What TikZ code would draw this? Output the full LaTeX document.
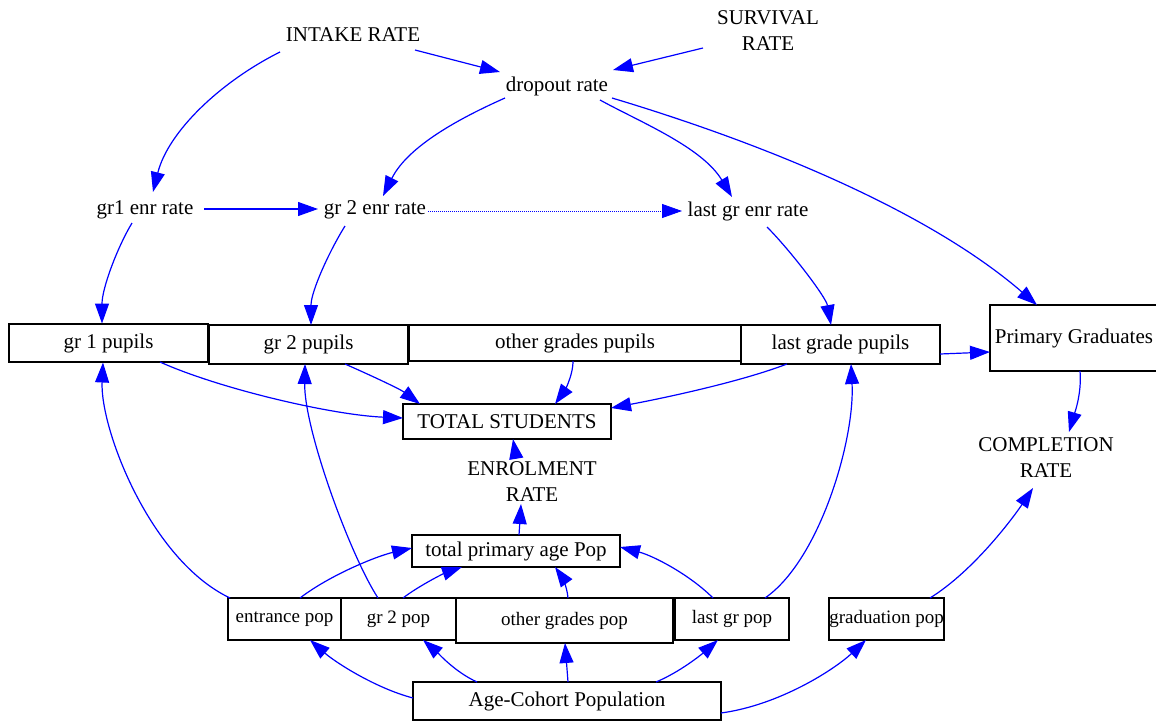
\documentclass[tikz,border=0pt]{standalone}
\usepackage{fontspec}
\setmainfont{Liberation Serif}
\usetikzlibrary{arrows.meta,calc}
\definecolor{linkblue}{RGB}{0,0,255}

\begin{document}
\begin{tikzpicture}[x=0.75pt,y=-0.75pt,
  lbl/.style={inner sep=0pt, font=\fontsize{15.75}{19.5}\selectfont, align=center},
  box/.style 2 args={draw, line width=1.1pt, inner sep=0pt,
    minimum width=#1*0.75pt, minimum height=#2*0.75pt,
    font=\fontsize{15.75}{19}\selectfont},
  smallbox/.style 2 args={box={#1}{#2}, font=\fontsize{14.25}{17}\selectfont},
  link/.style={draw=linkblue, line width=0.9pt, -{Triangle[length=15pt,width=10.5pt]}},
  weaklink/.style={link, line width=0.6pt, dash pattern=on 0.6pt off 0.9pt},
]
\useasboundingbox (0,0) rectangle (1156,721);
\clip (0,0) rectangle (1156,721);

% rates and auxiliary variables
\node[lbl] (intake)     at (353,35)  {INTAKE RATE};
\node[lbl] (survival)   at (768,31)  {SURVIVAL\\RATE};
\node[lbl] (dropout)    at (557,86)  {dropout rate};
\node[lbl] (gr1enr)     at (145,210) {gr1 enr rate};
\node[lbl] (gr2enr)     at (375,210) {gr 2 enr rate};
\node[lbl] (lastenr)    at (748,211) {last gr enr rate};
\node[lbl] (enrol)      at (532,482) {ENROLMENT\\RATE};
\node[lbl] (completion) at (1046,458) {COMPLETION\\RATE};

% pupil stocks
\node[box={199}{38}] (gr1p)   at (108.5,343) {gr 1 pupils};
\node[box={199}{39}] (gr2p)   at (308.5,344.5) {gr 2 pupils};
\node[box={332}{36}] (otherp) at (575,343) {other grades pupils};
\node[box={199}{39}] (lastp)  at (840.5,344.5) {last grade pupils};
\node[box={168}{66}] (grads)  at (1074,338) {Primary Graduates};
\node[box={208}{35}] (total)  at (507,421.5) {TOTAL STUDENTS};

% population
\node[box={208}{32}] (totalpop) at (516,551) {total primary age Pop};
\node[smallbox={113}{42}] (entrance) at (284.5,619) {entrance pop};
\node[smallbox={115}{42}] (gr2pop)   at (398.5,619) {gr 2 pop};
\node[smallbox={217}{45}] (otherpop) at (564.5,620.5) {other grades pop};
\node[smallbox={114}{42}] (lastpop)  at (732,619) {last gr pop};
\node[smallbox={115}{42}] (gradpop)  at (886.5,619) {graduation pop};
\node[box={308}{38}] (cohort) at (567,701) {Age-Cohort Population};

% upper links
\draw[link] ($(intake)+(62,15)$) -- ($(dropout)+(-57,-14)$);
\draw[link] ($(survival)+(-65,17)$) -- ($(dropout)+(56,-16)$);
\draw[link] ($(intake)+(-73,17)$) .. controls +(-60,30) and +(15,-60) .. ($(gr1enr)+(8,-18)$);
\draw[link] ($(dropout)+(-52,12)$) .. controls +(-45,20) and +(25,-50) .. ($(gr2enr)+(8,-14)$);
\draw[link] ($(dropout)+(43,14)$) .. controls +(40,22) and +(-30,-50) .. ($(lastenr)+(-16,-14)$);
\draw[link] ($(dropout)+(55,12)$) .. controls +(150,45) and +(-110,-95) .. ($(grads)+(-37,-33)$);
\draw[link] ($(gr1enr)+(59,-1)$) -- ($(gr2enr)+(-57,-1)$);
\draw[weaklink] ($(gr2enr)+(53,1)$) -- ($(lastenr)+(-66,0)$);

% enrolment rates to pupils
\draw[link] ($(gr1enr)+(-13,13)$) .. controls +(-15,25) and +(0,-35) .. ($(gr1p)+(-6.5,-19.5)$);
\draw[link] ($(gr2enr)+(-30,16)$) .. controls +(-15,24) and +(0,-34) .. ($(gr2p)+(2.5,-19.5)$);
\draw[link] ($(lastenr)+(19,16)$) .. controls +(23,23) and +(-5,-28) .. ($(lastp)+(-9.5,-19.5)$);
\draw[link] ($(lastp)+(99.5,9.5)$) -- ($(grads)+(-84,14)$);
\draw[link] ($(grads)+(6,33)$) .. controls +(2,23) and +(5,-17) .. ($(completion)+(23,-26)$);

% pupils to total
\draw[link] ($(gr1p)+(51.5,19)$) .. controls +(60,27) and +(-71,-3) .. ($(total)+(-104,-3.5)$);
\draw[link] ($(gr2p)+(36.5,19.5)$) .. controls +(25,11) and +(-20,-15) .. ($(total)+(-87,-17.5)$);
\draw[link] ($(otherp)+(-2,18)$) .. controls +(0,16) and +(8,-11) .. ($(total)+(48,-17.5)$);
\draw[link] ($(lastp)+(-53.5,19.5)$) .. controls +(-47,18) and +(53,-10) .. ($(total)+(104,-13.5)$);
\draw[link] ($(enrol)+(-16,-25)$) -- ($(total)+(6,17.5)$);
\draw[link] ($(totalpop)+(3,-16)$) -- ($(enrol)+(-11,22)$);

% population to pupils
\draw[link] ($(entrance)+(-54.5,-21)$) .. controls +(-80,-38) and +(-3,66) .. ($(gr1p)+(-5.5,19.5)$);
\draw[link] ($(gr2pop)+(-20.5,-21)$) .. controls +(-28,-43) and +(-1,65) .. ($(gr2p)+(-3.5,19.5)$);
\draw[link] ($(lastpop)+(33,-21)$) .. controls +(55,-38) and +(4,75) .. ($(lastp)+(10.5,19.5)$);
\draw[link] ($(gradpop)+(43.5,-21)$) .. controls +(45,-28) and +(-18,27) .. ($(completion)+(-13,30)$);

% population to total primary age pop
\draw[link] ($(entrance)+(15.5,-21)$) .. controls +(30,-23) and +(-35,8) .. ($(totalpop)+(-104,-3)$);
\draw[link] ($(gr2pop)+(4.5,-21)$) .. controls +(17,-13) and +(-17,6) .. ($(totalpop)+(-54,16)$);
\draw[link] ($(otherpop)+(3.5,-22.5)$) .. controls +(-1,-13) and +(5,7) .. ($(totalpop)+(39,16)$);
\draw[link] ($(lastpop)+(-19,-21)$) .. controls +(-23,-23) and +(34,9) .. ($(totalpop)+(104,-4)$);

% cohort to grade populations
\draw[link] ($(cohort)+(-154,-3)$) .. controls +(-38,-10) and +(25,22) .. ($(entrance)+(25.5,21)$);
\draw[link] ($(cohort)+(-90,-19)$) .. controls +(-22,-10) and +(15,13) .. ($(gr2pop)+(24.5,21)$);
\draw[link] ($(cohort)+(1,-19)$) -- ($(otherpop)+(0.5,22.5)$);
\draw[link] ($(cohort)+(89,-19)$) .. controls +(24,-10) and +(-16,14) .. ($(lastpop)+(-14,21)$);
\draw[link] ($(cohort)+(154,12)$) .. controls +(59,-8) and +(-31,29) .. ($(gradpop)+(-20.5,21)$);
\end{tikzpicture}
\end{document}
